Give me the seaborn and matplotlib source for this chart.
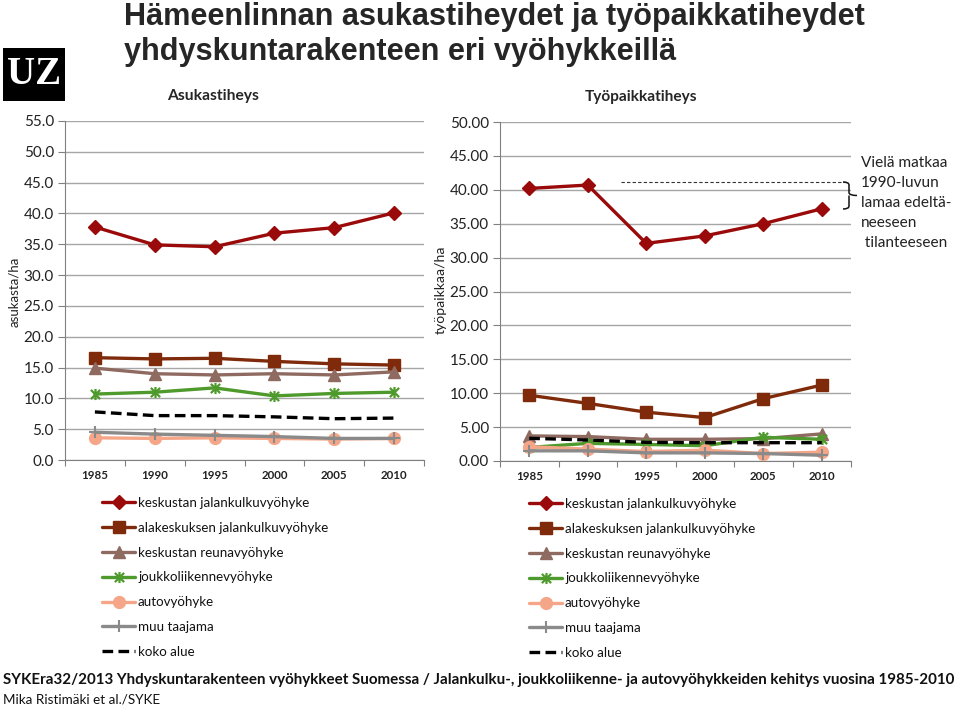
import matplotlib
matplotlib.use("Agg")
import matplotlib.pyplot as plt
import seaborn as sns
import numpy as np
import pandas as pd
from matplotlib.path import Path
from matplotlib.patches import PathPatch, Rectangle
from matplotlib.ticker import MultipleLocator, FixedLocator

sns.set_theme(style="white")
plt.rcParams['font.family'] = ['Lato', 'DejaVu Sans']

years = [1985, 1990, 1995, 2000, 2005, 2010]

series_names = [
    "keskustan jalankulkuvyöhyke",
    "alakeskuksen jalankulkuvyöhyke",
    "keskustan reunavyöhyke",
    "joukkoliikennevyöhyke",
    "autovyöhyke",
    "muu taajama",
    "koko alue",
]

# Asukastiheys (asukasta/ha)
res_keskusta = [37.8, 34.9, 34.6, 36.8, 37.7, 40.1]
res_alakeskus = [16.6, 16.4, 16.5, 16.0, 15.6, 15.4]
res_reuna = [14.9, 14.0, 13.8, 14.0, 13.8, 14.3]
res_joukko = [10.7, 11.0, 11.7, 10.4, 10.8, 11.0]
res_auto = [3.6, 3.5, 3.6, 3.5, 3.4, 3.5]
res_muu = [4.5, 4.2, 4.0, 3.8, 3.5, 3.5]
res_koko = [7.8, 7.2, 7.2, 7.0, 6.7, 6.8]

# Työpaikkatiheys (työpaikkaa/ha)
job_keskusta = [40.2, 40.7, 32.1, 33.2, 35.0, 37.2]
job_alakeskus = [9.7, 8.5, 7.2, 6.4, 9.2, 11.2]
job_reuna = [3.7, 3.6, 3.2, 3.2, 3.3, 4.0]
job_joukko = [2.0, 2.6, 2.45, 2.25, 3.5, 3.2]
job_auto = [2.1, 1.75, 1.4, 1.6, 1.1, 1.3]
job_muu = [1.5, 1.5, 1.2, 1.2, 1.1, 0.85]
job_koko = [3.35, 3.1, 2.75, 2.7, 2.7, 2.7]

reference_level = 41.1  # pre-1990s-recession level marker on right chart

res_series = [res_keskusta, res_alakeskus, res_reuna, res_joukko, res_auto, res_muu, res_koko]
job_series = [job_keskusta, job_alakeskus, job_reuna, job_joukko, job_auto, job_muu, job_koko]

# Excel-like "star" marker: x with a vertical bar
star = Path([(-1, -1), (1, 1), (-1, 1), (1, -1), (0, -1.2), (0, 1.2)],
            [Path.MOVETO, Path.LINETO, Path.MOVETO, Path.LINETO, Path.MOVETO, Path.LINETO])

colors = ["#9A0A0A", "#7F2A0A", "#8E6A60", "#4F9A2C", "#F5A688", "#8A8A8A", "#000000"]
markers = ["D", "s", "^", star, "o", "+", None]
msizes = [7, 9, 8, 8, 8.5, 9, 0]
mews = [1.0, 1.0, 1.0, 1.6, 1.0, 1.5, 1.0]
lstyles = ["-", "-", "-", "-", "-", "-", (0, (3.2, 1.6))]

W, H = 960, 709
fig = plt.figure(figsize=(W / 100, H / 100), dpi=100)
renderer = fig.canvas.get_renderer()

def px_axes(x0, y0, x1, y1):
    return fig.add_axes([x0 / W, 1 - y1 / H, (x1 - x0) / W, (y1 - y0) / H])

def fx(x):
    return x / W

def fy(y):
    return 1 - y / H

def fit(t, target, use_height=False):
    bb = t.get_window_extent(renderer)
    cur = bb.height if use_height else bb.width
    t.set_fontsize(t.get_fontsize() * target / cur)
    return t

def size_for(text, target, **kw):
    t = fig.text(0, 0, text, fontsize=10, **kw)
    w = t.get_window_extent(renderer).width
    t.remove()
    return 10 * target / w

ax1 = px_axes(65, 121, 424, 460)
ax2 = px_axes(500, 122, 851, 461)

def draw(ax, data, ymax, fmt):
    for i, (name, vals) in enumerate(zip(series_names, data)):
        df = pd.DataFrame({"year": years, "value": vals})
        kw = dict(color=colors[i], linewidth=2.4, linestyle=lstyles[i])
        if markers[i] is not None:
            kw.update(marker=markers[i], markersize=msizes[i], markeredgewidth=mews[i],
                      markeredgecolor=colors[i], markerfacecolor=colors[i])
        sns.lineplot(data=df, x="year", y="value", ax=ax, label=name, zorder=3, **kw)
    ax.set_xlim(1982.5, 2012.5)
    ax.set_ylim(0, ymax)
    ax.yaxis.set_major_locator(MultipleLocator(5))
    ax.yaxis.set_major_formatter(matplotlib.ticker.FormatStrFormatter(fmt))
    ax.set_xticks(years)
    ax.set_xticklabels([str(y) for y in years])
    ax.xaxis.set_minor_locator(FixedLocator(np.arange(1982.5, 2013, 5)))
    ax.tick_params(axis="x", which="major", length=0, pad=7, labelsize=8.3, colors="#222222")
    ax.tick_params(axis="x", which="minor", length=4, width=0.8, color="#808080", bottom=True)
    ax.tick_params(axis="y", which="major", length=5, width=0.8, color="#808080", left=True,
                   labelsize=11, pad=3, colors="#222222")
    for lab in ax.get_xticklabels():
        lab.set_fontweight("bold")
    ax.grid(axis="y", color="#A6A6A6", linewidth=1.0)
    ax.grid(axis="x", visible=False)
    for s in ["top", "right"]:
        ax.spines[s].set_visible(False)
    for s in ["left", "bottom"]:
        ax.spines[s].set_color("#808080")
        ax.spines[s].set_linewidth(0.8)
    ax.set_xlabel("")
    ax.set_ylabel("")
    ax.set_axisbelow(True)
    handles, labels = ax.get_legend_handles_labels()
    ax.get_legend().remove()
    return handles, labels

h1, l1 = draw(ax1, res_series, 55, "%.1f")
h2, l2 = draw(ax2, job_series, 50, "%.2f")

# y labels
t = fig.text(fx(14), fy(292), "asukasta/ha", rotation=90, ha="center", va="center", fontsize=10, color="#222222")
fit(t, 70, use_height=True)
t = fig.text(fx(441), fy(290), "työpaikkaa/ha", rotation=90, ha="center", va="center", fontsize=10, color="#222222")
fit(t, 88, use_height=True)

# legends (fitted to the reference layout)
leg_fs = size_for(series_names[0], 171)
leg_fs_px = leg_fs * 100 / 72
pitch_target = 24.8

def make_legend(hs, ls, x0, ytop, hl, L):
    leg = fig.legend(hs, ls, loc="upper left", bbox_to_anchor=(fx(x0), fy(ytop)),
                     frameon=False, fontsize=leg_fs, handlelength=hl, handletextpad=0.22,
                     labelspacing=L, borderaxespad=0, borderpad=0)
    for tt in leg.get_texts():
        tt.set_color("#111111")
    return leg

for hs, ls, x0, text_x, first_c in [(h1, l1, 102, 138, 503), (h2, l2, 529, 565, 504)]:
    hl = (text_x - x0) / leg_fs_px - 0.22
    L = 0.9
    ytop = first_c - 8
    leg = make_legend(hs, ls, x0, ytop, hl, L)
    fig.canvas.draw()
    tx = leg.get_texts()
    b0 = tx[0].get_window_extent(renderer)
    bn = tx[-1].get_window_extent(renderer)
    c0 = H - (b0.y0 + b0.y1) / 2
    pitch = ((b0.y0 + b0.y1) / 2 - (bn.y0 + bn.y1) / 2) / 6
    L2 = L + (pitch_target - pitch) / leg_fs_px
    leg.remove()
    make_legend(hs, ls, x0, ytop + (first_c - c0), hl, L2)

# Reference dashed line and brace
ax2.plot([1992.8, 2012.2], [reference_level, reference_level], color="#333333",
         linewidth=0.8, linestyle=(0, (3, 2)), clip_on=False, zorder=2)

bx0, bxv, btip = 843, 849, 857
by0, by1 = 182, 209
bym = (by0 + by1) / 2
verts = [
    (bx0, by0), (bxv, by0), (bxv, by0 + 3),
    (bxv, bym - 3), (bxv, bym), (btip, bym),
    (bxv, bym), (bxv, bym + 3), (bxv, by1 - 3),
    (bxv, by1), (bx0, by1),
]
codes = [Path.MOVETO, Path.CURVE3, Path.CURVE3,
         Path.LINETO, Path.CURVE3, Path.CURVE3,
         Path.MOVETO, Path.CURVE3, Path.LINETO,
         Path.CURVE3, Path.CURVE3]
verts_f = [(fx(x), fy(y)) for x, y in verts]
fig.add_artist(PathPatch(Path(verts_f, codes), transform=fig.transFigure,
                         facecolor="none", edgecolor="#111111", linewidth=1.1))

note_lines = ["Vielä matkaa", "1990-luvun", "lamaa edeltä-", "neeseen", " tilanteeseen"]
note_fs = size_for(note_lines[0], 86)
for i, tline in enumerate(note_lines):
    fig.text(fx(861), fy(163 + 20 * i), tline, ha="left", va="center", fontsize=note_fs, color="#222222")

# Title
t = fig.text(fx(124), fy(25), "Hämeenlinnan asukastiheydet ja työpaikkatiheydet",
             ha="left", va="baseline", fontsize=22, fontweight="bold", family=["Liberation Sans"])
fit(t, 739)
title_fs = t.get_fontsize()
fig.text(fx(124), fy(60), "yhdyskuntarakenteen eri vyöhykkeillä",
         ha="left", va="baseline", fontsize=title_fs, fontweight="bold", family=["Liberation Sans"])

# Logo
fig.add_artist(Rectangle((fx(3), fy(101)), fx(62), 53 / H, transform=fig.transFigure,
                         facecolor="black", edgecolor="none"))
fig.text(fx(34), fy(75), "UZ", ha="center", va="center", fontsize=28, fontweight="bold",
         color="white", family=["Liberation Serif"])

# Subtitles
t = fig.text(fx(167), fy(96), "Asukastiheys", ha="left", va="center", fontsize=11, fontweight="bold")
fit(t, 92)
t = fig.text(fx(585), fy(97), "Työpaikkatiheys", ha="left", va="center", fontsize=11, fontweight="bold")
fit(t, 112)

# Footer
t = fig.text(fx(3), fy(680), "SYKEra32/2013 Yhdyskuntarakenteen vyöhykkeet Suomessa / Jalankulku-, joukkoliikenne- ja autovyöhykkeiden kehitys vuosina 1985-2010",
             ha="left", va="center", fontsize=10.9, fontweight="bold", color="#111111")
fit(t, 954)
t = fig.text(fx(3), fy(699), "Mika Ristimäki et al./SYKE", ha="left", va="center", fontsize=10, color="#111111")
fit(t, 157)

fig.savefig("out.png", dpi=100)
